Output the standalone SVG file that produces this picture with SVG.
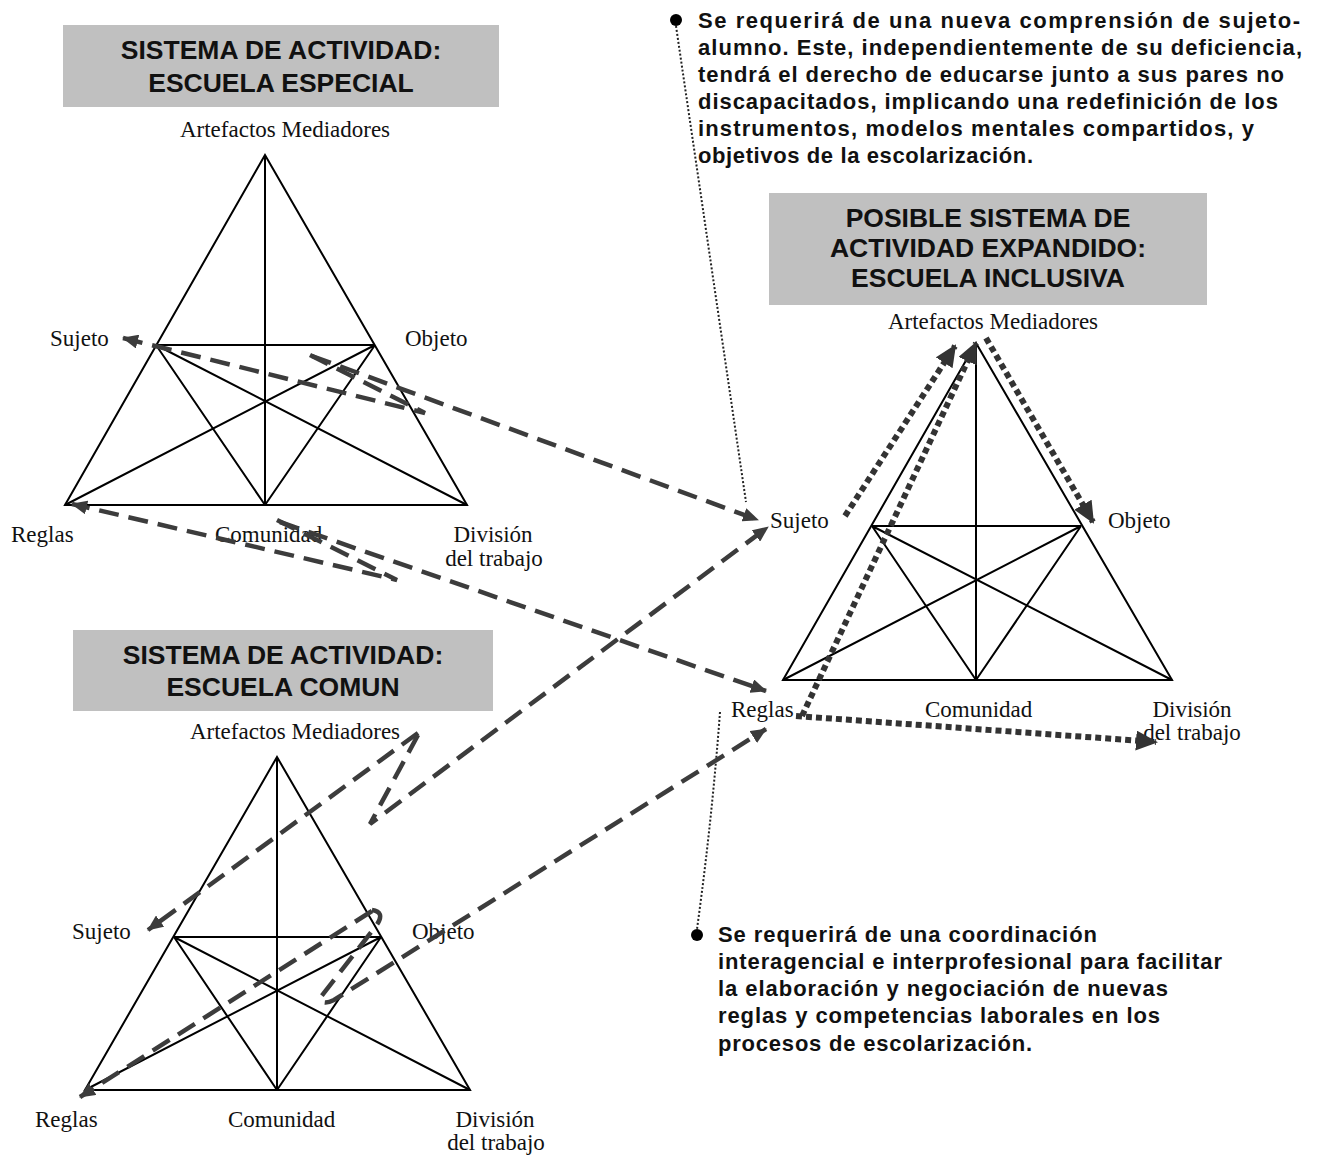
<svg xmlns="http://www.w3.org/2000/svg" width="1317" height="1156" viewBox="0 0 1317 1156">
<style>
.bg{fill:#ffffff}
.hbox{fill:#c0c0c0}
.htxt{font-family:"Liberation Sans",Arial,sans-serif;font-weight:bold;font-size:26.5px;fill:#111;text-anchor:middle}
.tri{fill:none;stroke:#000;stroke-width:2;stroke-linejoin:miter}
.lbl{font-family:"Liberation Serif","Times New Roman",serif;font-size:23px;fill:#111}
.mid{text-anchor:middle}
.note{font-family:"Liberation Sans",Arial,sans-serif;font-size:22px;font-weight:bold;fill:#111}
.dash{fill:none;stroke:#3c3c3c;stroke-width:4.5;stroke-dasharray:20 10}
.dot{fill:none;stroke:#333;stroke-width:6;stroke-dasharray:6 4}
.thin{fill:none;stroke:#222;stroke-width:2;stroke-dasharray:2 2}
</style>
<defs>
<marker id="ah" viewBox="0 0 16 14" refX="15" refY="7" markerWidth="16" markerHeight="14" orient="auto" markerUnits="userSpaceOnUse"><path d="M0,0 L16,7 L0,14 Z" fill="#3c3c3c"/></marker>
<marker id="ahd" viewBox="0 0 22 20" refX="20" refY="10" markerWidth="22" markerHeight="20" orient="auto" markerUnits="userSpaceOnUse"><path d="M0,0 L22,10 L0,20 Z" fill="#333"/></marker>
</defs>
<rect class="bg" x="0" y="0" width="1317" height="1156"/>

<g id="header-especial">
<rect class="hbox" x="63" y="25" width="436" height="82"/>
<text class="htxt" x="281" y="59">SISTEMA DE ACTIVIDAD:</text>
<text class="htxt" x="281" y="92">ESCUELA ESPECIAL</text>
</g>

<g id="header-comun">
<rect class="hbox" x="73" y="630" width="420" height="81"/>
<text class="htxt" x="283" y="664">SISTEMA DE ACTIVIDAD:</text>
<text class="htxt" x="283" y="696">ESCUELA COMUN</text>
</g>

<g id="header-inclusiva">
<rect class="hbox" x="769" y="193" width="438" height="112"/>
<text class="htxt" x="988" y="227">POSIBLE SISTEMA DE</text>
<text class="htxt" x="988" y="257">ACTIVIDAD EXPANDIDO:</text>
<text class="htxt" x="988" y="287">ESCUELA INCLUSIVA</text>
</g>

<g id="triangle-especial">
<polygon class="tri" points="265,155 65,505 467,505"/>
<path class="tri" d="M156,345 L375,345 M265,155 L265,505 M156,345 L265,505 M375,345 L265,505 M156,345 L467,505 M375,345 L65,505"/>
<text class="lbl mid" x="285" y="137">Artefactos Mediadores</text>
<text class="lbl" x="50" y="346">Sujeto</text>
<text class="lbl" x="405" y="346">Objeto</text>
<text class="lbl" x="11" y="542">Reglas</text>
<text class="lbl" x="215" y="542">Comunidad</text>
<text class="lbl mid" x="493" y="542">División</text>
<text class="lbl mid" x="494" y="566">del trabajo</text>
</g>

<g id="triangle-comun">
<polygon class="tri" points="277,757 85,1090 470,1090"/>
<path class="tri" d="M174,937 L381,937 M277,757 L277,1090 M174,937 L277,1090 M381,937 L277,1090 M174,937 L470,1090 M381,937 L85,1090"/>
<text class="lbl mid" x="295" y="739">Artefactos Mediadores</text>
<text class="lbl" x="72" y="939">Sujeto</text>
<text class="lbl" x="412" y="939">Objeto</text>
<text class="lbl" x="35" y="1127">Reglas</text>
<text class="lbl" x="228" y="1127">Comunidad</text>
<text class="lbl mid" x="495" y="1127">División</text>
<text class="lbl mid" x="496" y="1150">del trabajo</text>
</g>

<g id="triangle-inclusiva">
<polygon class="tri" points="976,343 783,680 1172,680"/>
<path class="tri" d="M872,526 L1081,526 M976,343 L976,680 M872,526 L976,680 M1081,526 L976,680 M872,526 L1172,680 M1081,526 L783,680"/>
<text class="lbl mid" x="993" y="329">Artefactos Mediadores</text>
<text class="lbl" x="770" y="528">Sujeto</text>
<text class="lbl" x="1108" y="528">Objeto</text>
<text class="lbl" x="731" y="717">Reglas</text>
<text class="lbl" x="925" y="717">Comunidad</text>
<text class="lbl mid" x="1192" y="717">División</text>
<text class="lbl mid" x="1192" y="740">del trabajo</text>
</g>

<g id="note-top">
<circle cx="676" cy="20" r="6" fill="#000"/>
<text class="note" x="698" y="28" textLength="602" lengthAdjust="spacing">Se requerirá de una nueva comprensión de sujeto-</text>
<text class="note" x="698" y="55" textLength="604" lengthAdjust="spacing">alumno. Este, independientemente de su deficiencia,</text>
<text class="note" x="698" y="82" textLength="586" lengthAdjust="spacing">tendrá el derecho de educarse junto a sus pares no</text>
<text class="note" x="698" y="109" textLength="580" lengthAdjust="spacing">discapacitados, implicando una redefinición de los</text>
<text class="note" x="698" y="136" textLength="556" lengthAdjust="spacing">instrumentos, modelos mentales compartidos,  y</text>
<text class="note" x="698" y="163" textLength="335" lengthAdjust="spacing">objetivos de la escolarización.</text>
</g>

<g id="note-bottom">
<circle cx="697" cy="935" r="6" fill="#000"/>
<text class="note" x="718" y="942" textLength="379" lengthAdjust="spacing">Se requerirá de una coordinación</text>
<text class="note" x="718" y="969" textLength="504" lengthAdjust="spacing">interagencial e interprofesional para facilitar</text>
<text class="note" x="718" y="996" textLength="450" lengthAdjust="spacing">la elaboración y negociación de nuevas</text>
<text class="note" x="718" y="1023" textLength="442" lengthAdjust="spacing">reglas y competencias laborales en los</text>
<text class="note" x="718" y="1051" textLength="314" lengthAdjust="spacing">procesos de escolarización.</text>
</g>

<g id="connectors">
<path class="thin" d="M676,26 L746,502"/>
<path class="thin" d="M720,712 Q712,820 697,929"/>
<path class="dash" d="M310,355 L425,413 L123,338" marker-end="url(#ah)"/>
<path class="dash" d="M312,356 L758,520" marker-end="url(#ah)"/>
<path class="dash" d="M277,520 L397,580 L72,504" marker-end="url(#ah)"/>
<path class="dash" d="M280,522 L766,691" marker-end="url(#ah)"/>
<path class="dash" d="M418,733 L148,930" marker-end="url(#ah)"/>
<path class="dash" d="M418,735 L370,824 L768,527" marker-end="url(#ah)"/>
<path class="dash" d="M372,911 L80,1097" marker-end="url(#ah)"/>
<path class="dash" d="M372,910 Q386,912 376,926 L320,998 Q322,1006 334,1000 L766,729" marker-end="url(#ah)"/>
<path class="dot" d="M845,516 L955,346" marker-end="url(#ahd)"/>
<path class="dot" d="M802,716 L976,343" marker-end="url(#ahd)"/>
<path class="dot" d="M986,338 L1093,522" marker-end="url(#ahd)"/>
<path class="dot" d="M796,716 L1156,742" marker-end="url(#ahd)"/>
</g>
</svg>
